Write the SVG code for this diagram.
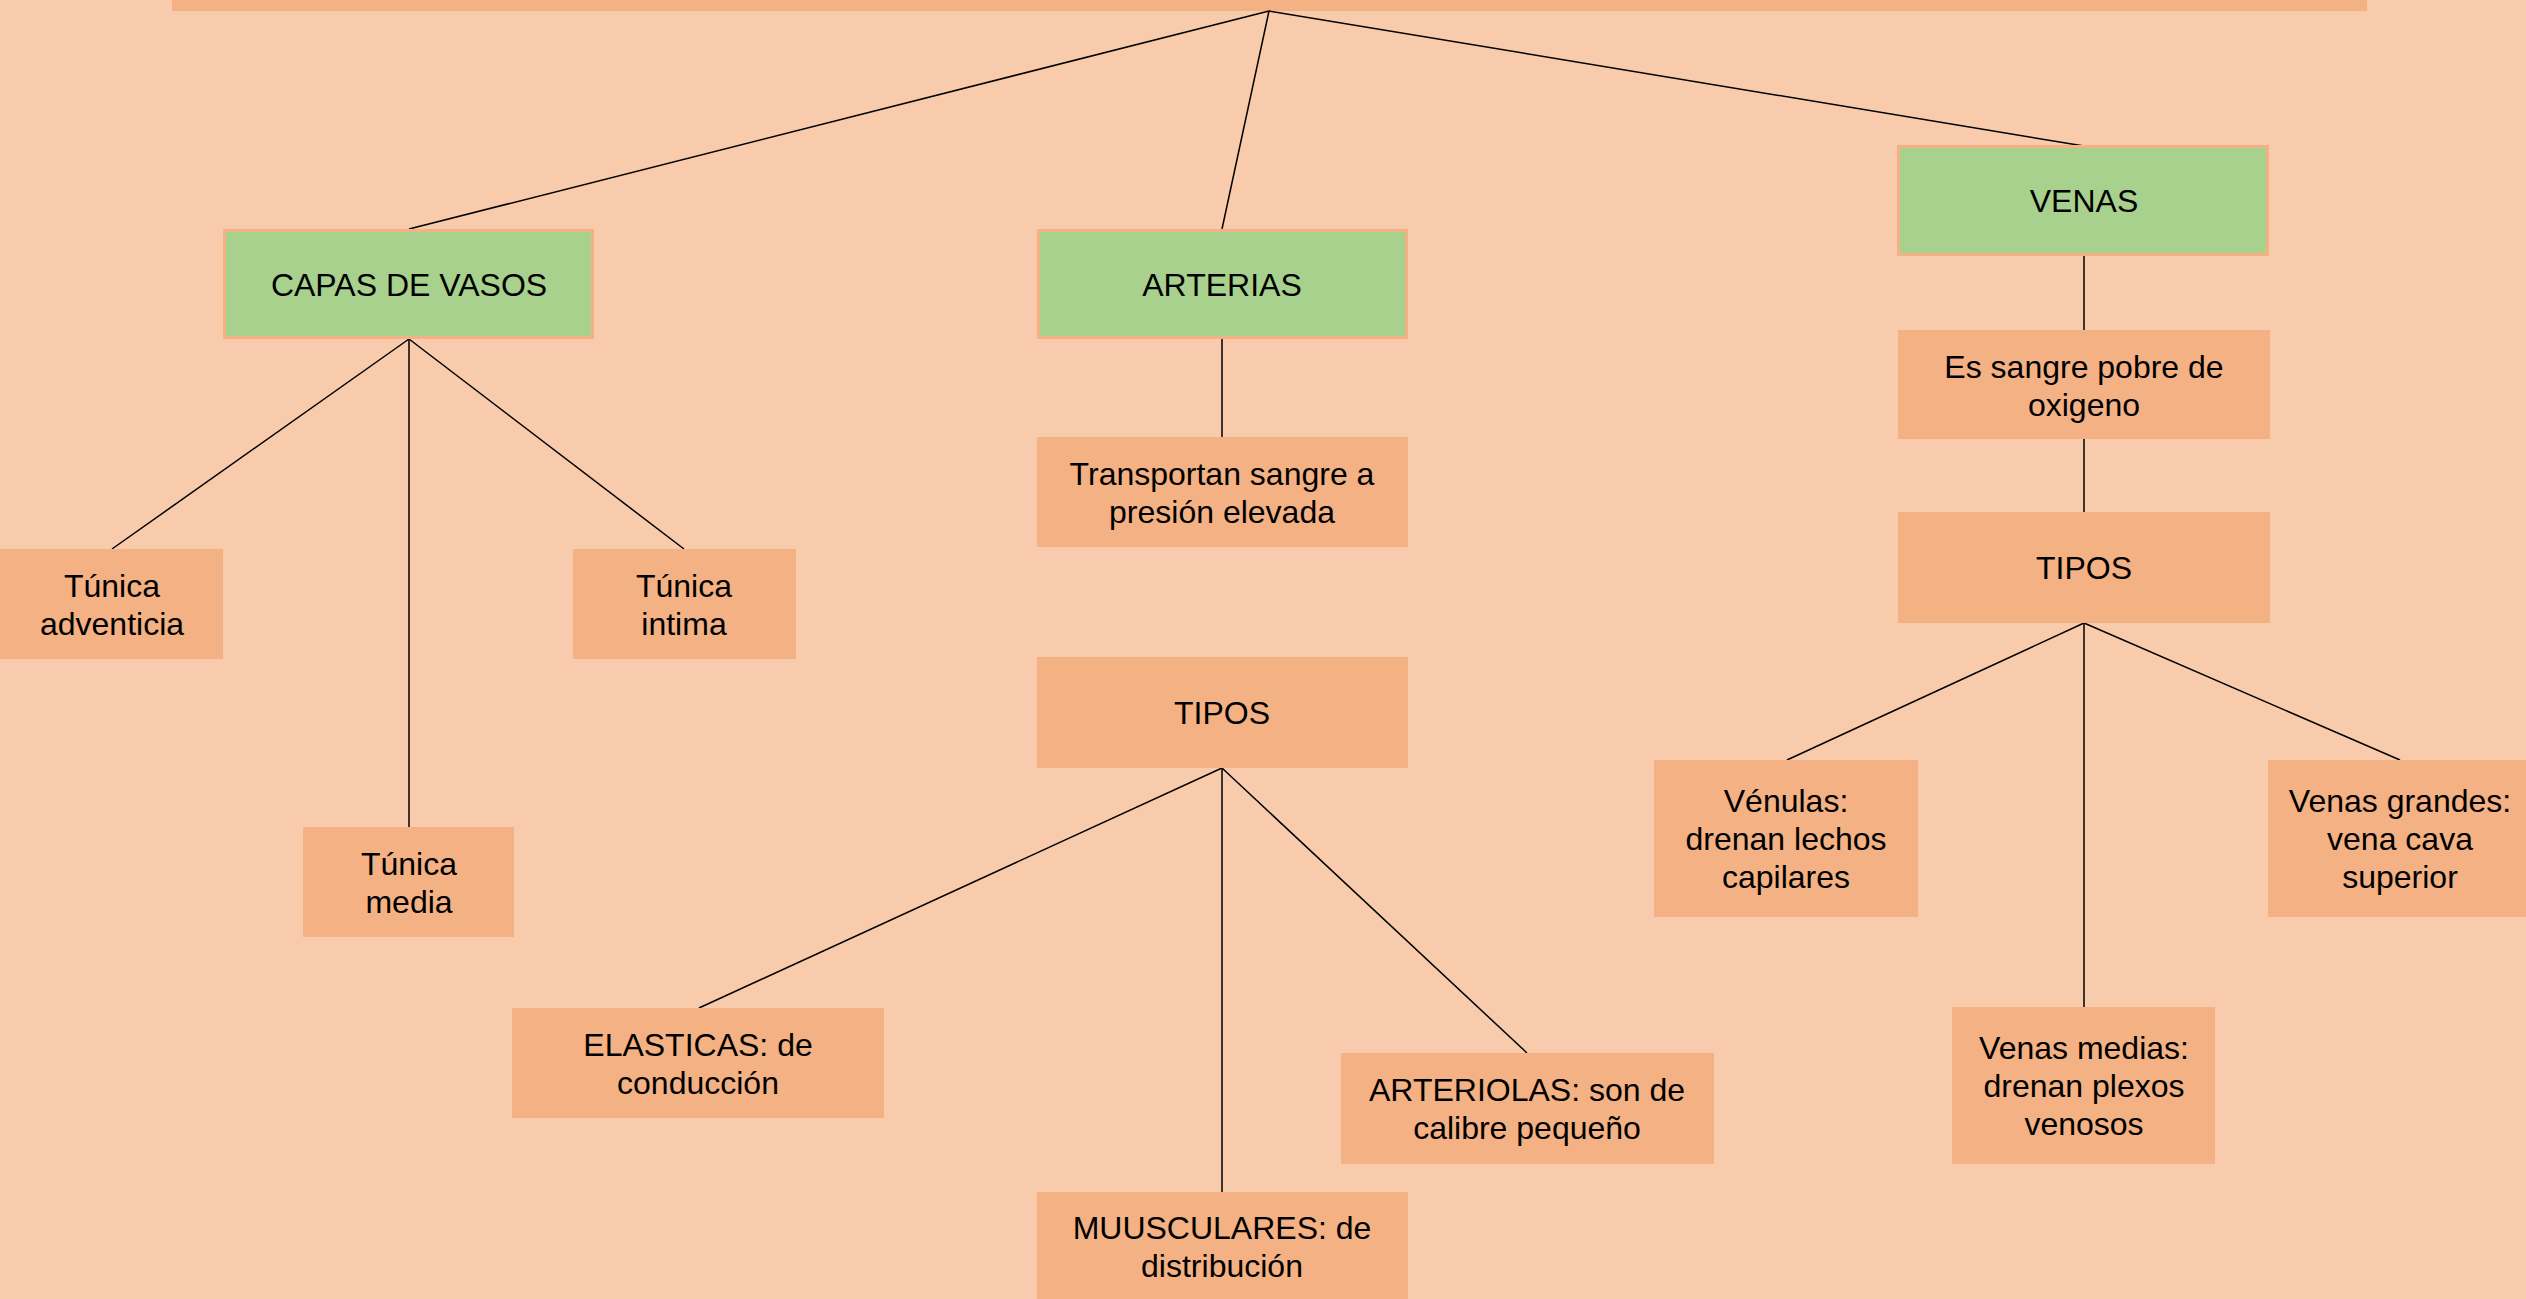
<svg xmlns="http://www.w3.org/2000/svg" width="2526" height="1299" viewBox="0 0 2526 1299">
<style>
.bg{fill:#F8CBAD}
.o{fill:#F4B183}
.g{fill:#A9D18E;stroke:#F4B183;stroke-width:3}
.t{font-family:"Liberation Sans",Arial,sans-serif;font-size:32px;fill:#000;text-anchor:middle}
.c line{stroke:#000;stroke-width:1.5}
</style>
<rect class="bg" x="0" y="0" width="2526" height="1299"/>
<g id="root"><rect class="o" x="172" y="0" width="2195" height="11"/></g>
<g class="c" id="connectors">
<line x1="1269" y1="11" x2="409" y2="229"/>
<line x1="1269" y1="11" x2="1222" y2="229"/>
<line x1="1269" y1="11" x2="2084" y2="146"/>
<line x1="409" y1="339" x2="112" y2="549"/>
<line x1="409" y1="339" x2="409" y2="827"/>
<line x1="409" y1="339" x2="684" y2="549"/>
<line x1="1222" y1="339" x2="1222" y2="437"/>
<line x1="1222" y1="768" x2="699" y2="1008"/>
<line x1="1222" y1="768" x2="1222" y2="1192"/>
<line x1="1222" y1="768" x2="1527" y2="1053"/>
<line x1="2084" y1="256" x2="2084" y2="330"/>
<line x1="2084" y1="439" x2="2084" y2="512"/>
<line x1="2084" y1="623" x2="1787" y2="760"/>
<line x1="2084" y1="623" x2="2084" y2="1007"/>
<line x1="2084" y1="623" x2="2400" y2="760"/>
</g>
<g id="capas"><rect class="g" x="224.5" y="230.5" width="368" height="107"/><text class="t" x="409" y="296">CAPAS DE VASOS</text></g>
<g id="arterias"><rect class="g" x="1038.5" y="230.5" width="368" height="107"/><text class="t" x="1222" y="296">ARTERIAS</text></g>
<g id="venas"><rect class="g" x="1898.5" y="146.5" width="369" height="108"/><text class="t" x="2084" y="212">VENAS</text></g>
<g id="adventicia"><rect class="o" x="0" y="549" width="223" height="110"/><text class="t" x="112" y="597">Túnica</text><text class="t" x="112" y="635">adventicia</text></g>
<g id="intima"><rect class="o" x="573" y="549" width="223" height="110"/><text class="t" x="684" y="597">Túnica</text><text class="t" x="684" y="635">intima</text></g>
<g id="media"><rect class="o" x="303" y="827" width="211" height="110"/><text class="t" x="409" y="875">Túnica</text><text class="t" x="409" y="913">media</text></g>
<g id="transportan"><rect class="o" x="1037" y="437" width="371" height="110"/><text class="t" x="1222" y="485">Transportan sangre a</text><text class="t" x="1222" y="523">presión elevada</text></g>
<g id="tipos-art"><rect class="o" x="1037" y="657" width="371" height="111"/><text class="t" x="1222" y="724">TIPOS</text></g>
<g id="elasticas"><rect class="o" x="512" y="1008" width="372" height="110"/><text class="t" x="698" y="1056">ELASTICAS: de</text><text class="t" x="698" y="1094">conducción</text></g>
<g id="musculares"><rect class="o" x="1037" y="1192" width="371" height="110"/><text class="t" x="1222" y="1239">MUUSCULARES: de</text><text class="t" x="1222" y="1277">distribución</text></g>
<g id="arteriolas"><rect class="o" x="1341" y="1053" width="373" height="111"/><text class="t" x="1527" y="1101">ARTERIOLAS: son de</text><text class="t" x="1527" y="1139">calibre pequeño</text></g>
<g id="es-sangre"><rect class="o" x="1898" y="330" width="372" height="109"/><text class="t" x="2084" y="378">Es sangre pobre de</text><text class="t" x="2084" y="416">oxigeno</text></g>
<g id="tipos-ven"><rect class="o" x="1898" y="512" width="372" height="111"/><text class="t" x="2084" y="579">TIPOS</text></g>
<g id="venulas"><rect class="o" x="1654" y="760" width="264" height="157"/><text class="t" x="1786" y="812">Vénulas:</text><text class="t" x="1786" y="850">drenan lechos</text><text class="t" x="1786" y="888">capilares</text></g>
<g id="venas-grandes"><rect class="o" x="2268" y="760" width="264" height="157"/><text class="t" x="2400" y="812">Venas grandes:</text><text class="t" x="2400" y="850">vena cava</text><text class="t" x="2400" y="888">superior</text></g>
<g id="venas-medias"><rect class="o" x="1952" y="1007" width="263" height="157"/><text class="t" x="2084" y="1059">Venas medias:</text><text class="t" x="2084" y="1097">drenan plexos</text><text class="t" x="2084" y="1135">venosos</text></g>
</svg>
